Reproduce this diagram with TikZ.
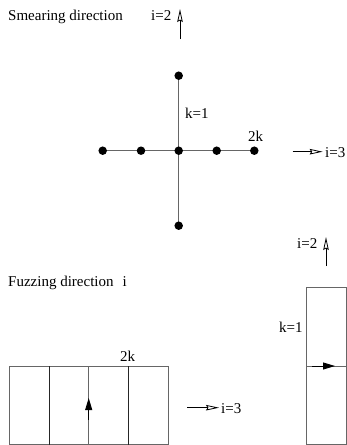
\documentclass[tikz,border=0pt]{standalone}
\usepackage{fontspec}
\setmainfont{Liberation Serif}
\usetikzlibrary{arrows.meta,backgrounds}
\begin{document}
\begin{tikzpicture}[x=1pt,y=-1pt,
  lbl/.style={inner sep=0pt,anchor=base west,font=\fontsize{15}{18}\selectfont},
  grayline/.style={draw=black!60,line width=1pt},
  darkline/.style={draw=black!85,line width=1pt},
  dirarrow/.style={draw=black,line width=0.9pt,-{Stealth[open,length=13pt,width=5.5pt,inset=1.5pt,line width=0.8pt]}},
  fillarrow/.style={-{Triangle[length=12pt,width=7pt]},draw=black,line width=0.9pt},
  dot/.style={circle,fill=black,inner sep=0pt,minimum size=8.5pt}]
\useasboundingbox (0,0) rectangle (347,445);
% top texts
\node[lbl] (smear) at (8,20) {Smearing direction};
\node[lbl] (i2a) at (151,20) {i=2};
\coordinate (i2abot) at (180,39);
\coordinate (i2atop) at (180,9);
\draw[dirarrow] (i2abot) -- (i2atop);
% cross
\node[dot] (h1) at (102.7,150.7) {};
\node[dot] (h2) at (141,150.7) {};
\node[dot] (c) at (178.7,150.7) {};
\node[dot] (h4) at (216.7,150.7) {};
\node[dot] (h5) at (254.3,150.7) {};
\node[dot] (vt) at (178.7,75.7) {};
\node[dot] (vb) at (178.7,225.7) {};
\begin{scope}[on background layer]
\draw[grayline] (h1.center) -- (h5.center);
\draw[grayline] (vt.center) -- (vb.center);
\end{scope}
\node[lbl] (k1a) at (185,118) {k=1};
\node[lbl] (twoka) at (248,141) {2k};
% i=3 top
\coordinate (i3as) at (292.7,151.7);
\coordinate (i3ae) at (322.7,151.7);
\draw[dirarrow] (i3as) -- (i3ae);
\node[lbl] (i3a) at (325,157) {i=3};
% second i=2
\node[lbl] (i2b) at (297,248) {i=2};
\coordinate (i2bbot) at (326,266);
\coordinate (i2btop) at (326,237);
\draw[dirarrow] (i2bbot) -- (i2btop);
% fuzzing
\node[lbl] (fuzz) at (8,286) {Fuzzing direction\hspace{9pt}i};
% left rectangle
\draw[grayline] (9,366) rectangle (168,444.5);
\draw[darkline] (49.3,366) -- (49.3,445);
\draw[grayline] (88.7,366) -- (88.7,445);
\draw[darkline] (128.7,366) -- (128.7,445);
\coordinate (upbase) at (88.7,420);
\coordinate (uptip) at (88.7,398);
\draw[fillarrow] (upbase) -- (uptip);
\node[lbl] (twokb) at (120,361) {2k};
% i=3 bottom
\coordinate (i3bs) at (187,407.7);
\coordinate (i3be) at (219,407.7);
\draw[dirarrow] (i3bs) -- (i3be);
\node[lbl] (i3b) at (221,413) {i=3};
% right rectangle
\draw[grayline] (306.5,287) rectangle (346,444.5);
\draw[grayline] (306.5,366) -- (346,366);
\coordinate (rtbase) at (312,366);
\coordinate (rttip) at (335,366);
\draw[fillarrow] (rtbase) -- (rttip);
\node[lbl] (k1b) at (279,332) {k=1};
\end{tikzpicture}
\end{document}
